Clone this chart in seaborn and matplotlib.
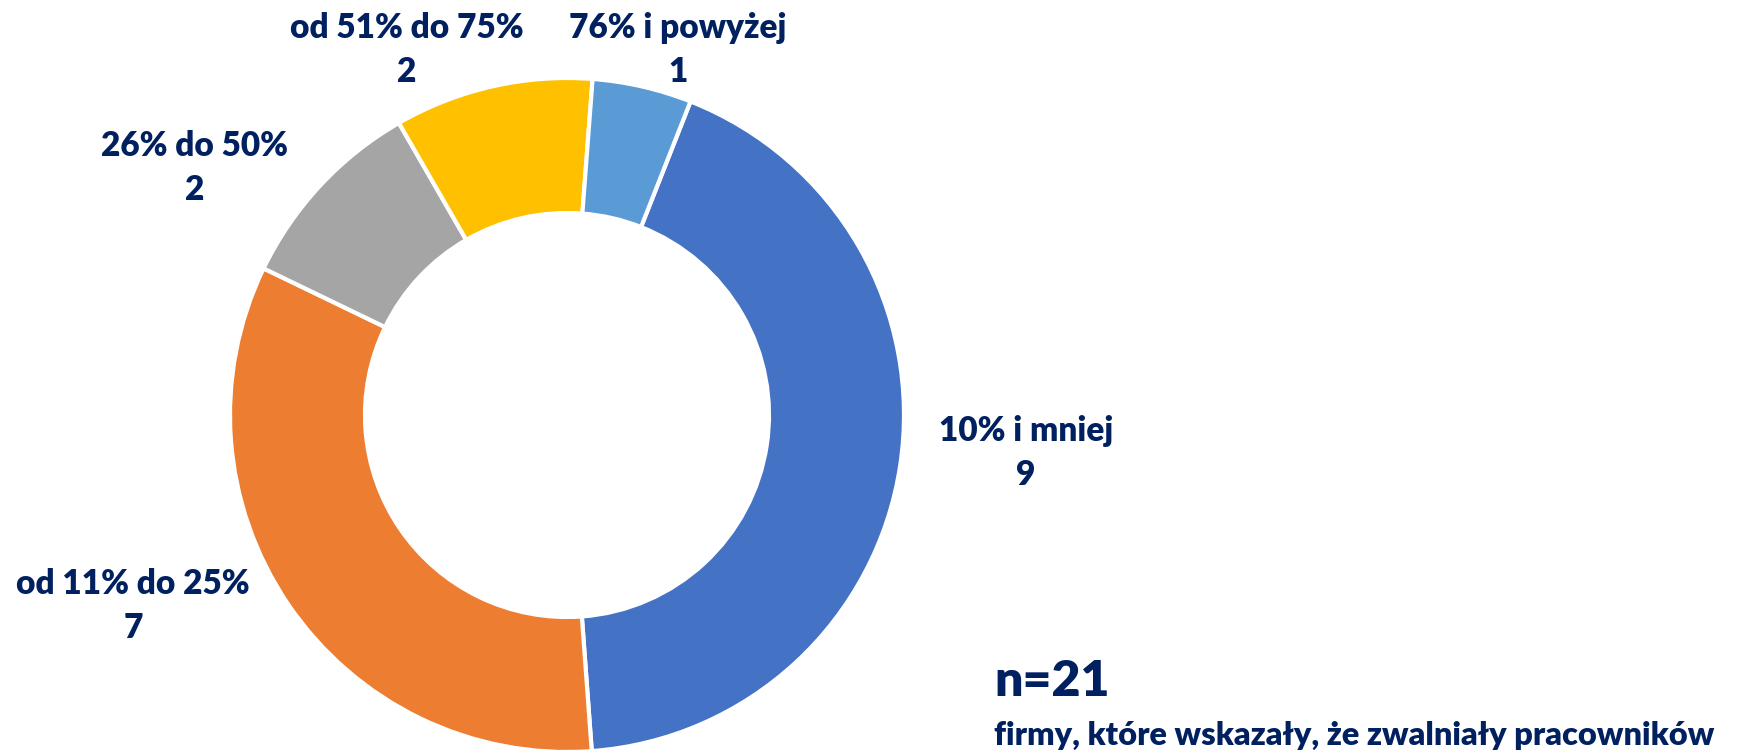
import matplotlib
matplotlib.use("Agg")
import matplotlib.pyplot as plt
import seaborn as sns

# data
categories = ["10% i mniej", "od 11% do 25%", "26% do 50%", "od 51% do 75%", "76% i powyżej"]
counts = [9, 7, 2, 2, 1]
colors = ["#4472C4", "#ED7D31", "#A5A5A5", "#FFC000", "#5B9BD5"]
n_total = 21
note = "firmy, które wskazały, że zwalniały pracowników"

# label anchor points (pixel coords, y from top)
label_pos = [(1026, 453), (133, 606), (195, 168), (407, 50), (678, 50)]

W, H = 1747, 755
TEXT = "#002060"

sns.set_theme(style="white")
plt.rcParams["font.family"] = ["Lato", "DejaVu Sans"]

fig = plt.figure(figsize=(W / 100, H / 100), dpi=100)
ax = fig.add_axes([0, 0, 1, 1])

ax.pie(
    counts,
    colors=colors,
    startangle=68.5,
    counterclock=False,
    center=(567, H - 415),
    radius=337,
    wedgeprops=dict(width=135, edgecolor="white", linewidth=3),
    frame=True,
)
ax.set_xlim(0, W)
ax.set_ylim(0, H)
ax.set_aspect("equal")
ax.axis("off")

for cat, cnt, (x, y) in zip(categories, counts, label_pos):
    ax.text(x, H - y, f"{cat}\n{cnt}", ha="center", va="center",
            fontsize=24, fontweight="heavy", color=TEXT, linespacing=1.45)

ax.text(994, H - 682, f"n={n_total}", ha="left", va="center",
        fontsize=36, fontweight="heavy", color=TEXT)
ax.text(994, H - 735, note, ha="left", va="center",
        fontsize=23.4, fontweight="heavy", color=TEXT)

fig.savefig("out.png", dpi=100)
